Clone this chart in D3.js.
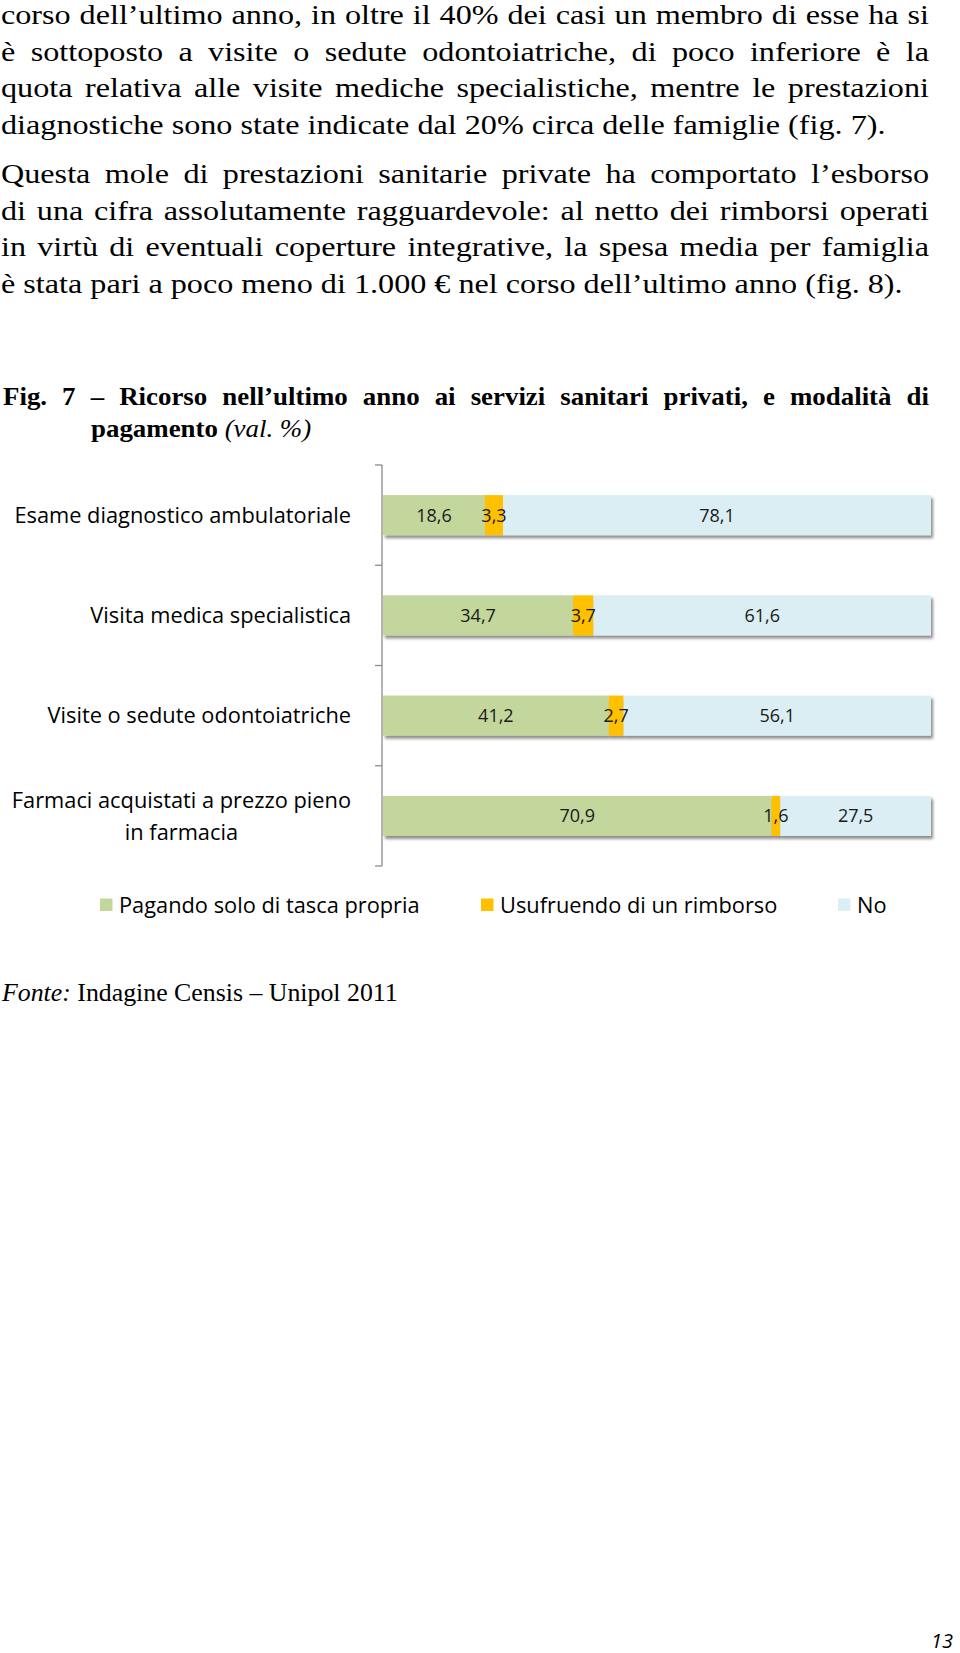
<!DOCTYPE html>
<html><head><meta charset="utf-8">
<script src="https://cdn.jsdelivr.net/npm/d3@7"></script>
<style>body{margin:0;background:#fff} svg{display:block}</style>
</head><body>
<svg id="c" width="960" height="1653"></svg>
<script>
// ---- data ----
const categories = ["Esame diagnostico ambulatoriale", "Visita medica specialistica", "Visite o sedute odontoiatriche", "Farmaci acquistati a prezzo pieno\nin farmacia"];
const seriesNames = ["Pagando solo di tasca propria", "Usufruendo di un rimborso", "No"];
const pagandoValues = [18.6, 34.7, 41.2, 70.9];
const rimborsoValues = [3.3, 3.7, 2.7, 1.6];
const noValues = [78.1, 61.6, 56.1, 27.5];
const seriesColors = ["#c3d69b", "#ffc000", "#dbeef4"];
const xDomain = [0, 100];

const para1 = [
  "corso dell’ultimo anno, in oltre il 40% dei casi un membro di esse ha si",
  "è sottoposto a visite o sedute odontoiatriche, di poco inferiore è la",
  "quota relativa alle visite mediche specialistiche, mentre le prestazioni",
  "diagnostiche sono state indicate dal 20% circa delle famiglie (fig. 7)."
];
const para2 = [
  "Questa mole di prestazioni sanitarie private ha comportato l’esborso",
  "di una cifra assolutamente ragguardevole: al netto dei rimborsi operati",
  "in virtù di eventuali coperture integrative, la spesa media per famiglia",
  "è stata pari a poco meno di 1.000 € nel corso dell’ultimo anno (fig. 8)."
];
const titleLine1 = "Fig. 7 – Ricorso nell’ultimo anno ai servizi sanitari privati, e modalità di";
const titleLine2Bold = "pagamento";
const titleLine2Ital = " (val. %)";

const svg = d3.select("#c");
const SERIF = "'Liberation Serif', 'Times New Roman', serif";
const SANS = "'Open Sans', Lato, sans-serif";

// stretched text line helper
function measure(str, attrs) {
  const t = svg.append("text").text(str);
  Object.entries(attrs).forEach(([k, v]) => t.attr(k, v));
  const w = t.node().getComputedTextLength(); t.remove(); return w;
}
function serifBlock(lines, x0, y0, step, size, weight, sx, rightEnd, lastJustified) {
  lines.forEach((str, i) => {
    const g = svg.append("g").attr("transform", `translate(${x0},${y0 + i * step}) scale(${sx},1)`);
    const t = g.append("text").attr("x", 0).attr("y", 0).attr("font-family", SERIF)
      .attr("font-size", size).attr("font-weight", weight).attr("fill", "#000").text(str);
    const justify = i < lines.length - 1 || lastJustified;
    if (justify) {
      const w = t.node().getComputedTextLength();
      const spaces = (str.match(/ /g) || []).length;
      t.attr("word-spacing", ((rightEnd - x0) / sx - w) / spaces);
    }
  });
}
{
  const a = { "font-family": SERIF, "font-size": 26.5 };
  const sx1 = (886 - 1) / measure(para1[3], a);
  const sx2 = (903 - 1) / measure(para2[3], a);
  const sx = (sx1 + sx2) / 2;
  serifBlock(para1, 1, 24, 36.5, 26.5, "normal", sx, 929, false);
  serifBlock(para2, 1, 183, 36.5, 26.5, "normal", sx, 929, false);
}

// ---- title ----
{
  const a = { "font-family": SERIF, "font-size": 25.5, "font-weight": "bold" };
  const sx = (218 - 91) / measure(titleLine2Bold, a);
  serifBlock([titleLine1], 3, 405, 0, 25.5, "bold", sx, 929, true);
  const g = svg.append("g").attr("transform", `translate(91,437) scale(${sx},1)`);
  const t2 = g.append("text").attr("font-family", SERIF).attr("font-size", 25.5);
  t2.append("tspan").attr("font-weight", "bold").text(titleLine2Bold);
  t2.append("tspan").attr("font-style", "italic").text(titleLine2Ital);
}

// ---- chart ----
const rows = categories.map((c, i) => ({ cat: c, p: pagandoValues[i], r: rimborsoValues[i], n: noValues[i] }));
const keys = ["p", "r", "n"];
const stack = d3.stack().keys(keys)(rows);

const x = d3.scaleLinear().domain(xDomain).range([383, 931]);
const y = d3.scaleBand().domain(categories).range([465, 866]).paddingInner(0.6).paddingOuter(0.3);
const fmt = d3.formatLocale({ decimal: ",", thousands: ".", grouping: [3], currency: ["", "€"] }).format(".1f");

const defs = svg.append("defs");
const f = defs.append("filter").attr("id", "sh").attr("x", "-5%").attr("y", "-20%").attr("width", "110%").attr("height", "160%");
f.append("feDropShadow").attr("dx", 2).attr("dy", 3).attr("stdDeviation", 1.8)
  .attr("flood-color", "#000").attr("flood-opacity", 0.45);

// bars
const barG = svg.append("g");
const rowG = barG.selectAll("g.row").data(rows).join("g").attr("class", "row").attr("filter", "url(#sh)");
rowG.each(function (d, i) {
  const g = d3.select(this);
  stack.forEach((s, k) => {
    const seg = s[i];
    g.append("rect").attr("x", x(seg[0])).attr("y", y(d.cat))
      .attr("width", x(seg[1]) - x(seg[0])).attr("height", y.bandwidth())
      .attr("fill", seriesColors[k]);
  });
});
// value labels
stack.forEach((s, k) => {
  svg.append("g").selectAll("text").data(s).join("text")
    .attr("x", d => (x(d[0]) + x(d[1])) / 2)
    .attr("y", d => y(d.data.cat) + y.bandwidth() / 2)
    .attr("dy", "0.36em").attr("text-anchor", "middle")
    .attr("font-family", SANS).attr("font-size", 18).attr("fill", "#1a1a1a")
    .text(d => fmt(d[1] - d[0]));
});

// axis
const axG = svg.append("g").attr("stroke", "#8c8c8c").attr("stroke-width", 1.3);
const [r0, r1] = y.range();
axG.append("line").attr("x1", 382).attr("x2", 382).attr("y1", r0).attr("y2", r1);
const tickYs = d3.range(categories.length + 1).map(i => r0 + i * y.step());
axG.selectAll("line.t").data(tickYs).join("line").attr("class", "t")
  .attr("x1", 375).attr("x2", 382).attr("y1", d => d).attr("y2", d => d);

// category labels
const CATSIZE = 21.8;
const LABEL_RIGHT = 351;
categories.forEach(c => {
  const lines = c.split("\n");
  const cy = y(c) + y.bandwidth() / 2;
  const lh = 32;
  const t = svg.append("text").attr("font-family", SANS).attr("font-size", CATSIZE).attr("fill", "#000");
  if (lines.length === 1) {
    t.attr("x", LABEL_RIGHT).attr("y", cy).attr("dy", "0.36em").attr("text-anchor", "end").text(c);
  } else {
    const w = measure(lines[0], { "font-family": SANS, "font-size": CATSIZE });
    const cx = LABEL_RIGHT - w / 2;
    lines.forEach((l, j) => {
      t.append("tspan").attr("x", cx).attr("y", cy + (j - (lines.length - 1) / 2) * lh)
        .attr("dy", "0.36em").attr("text-anchor", "middle").text(l);
    });
  }
});

// legend
const legendX = [100, 481, 838];
const lg = svg.append("g");
seriesNames.forEach((n, k) => {
  lg.append("rect").attr("x", legendX[k]).attr("y", 898.5).attr("width", 12.5).attr("height", 12.5).attr("fill", seriesColors[k]);
  lg.append("text").attr("x", legendX[k] + 19).attr("y", 912.5).attr("font-family", SANS).attr("font-size", CATSIZE).attr("fill", "#000").text(n);
});

// source
{
  const a = { "font-family": SERIF, "font-size": 26 };
  const w = measure("Fonte: Indagine Censis – Unipol 2011", a);
  const sx = (395 - 2) / w;
  const g = svg.append("g").attr("transform", `translate(2,1001) scale(${sx},1)`);
  const src = g.append("text").attr("font-family", SERIF).attr("font-size", 26);
  src.append("tspan").attr("font-style", "italic").text("Fonte:");
  src.append("tspan").text(" Indagine Censis – Unipol 2011");
}

// page number
svg.append("text").attr("x", 953).attr("y", 1648).attr("text-anchor", "end").attr("font-family", SANS)
  .attr("font-style", "italic").attr("font-size", 20).text("13");
</script>
</body></html>
